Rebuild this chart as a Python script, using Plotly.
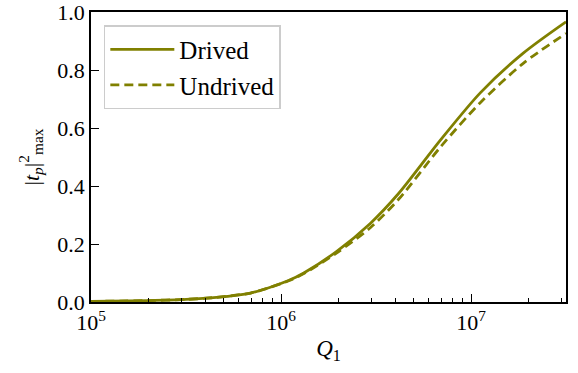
import plotly.graph_objects as go

# log10(Q1) sample positions
log_q = [5.0, 5.3, 5.5, 5.66, 5.84, 5.94, 6.04, 6.12, 6.29, 6.47, 6.62, 6.84, 7.05, 7.275, 7.5]
q1 = [10 ** v for v in log_q]
drived = [0.002, 0.005, 0.009, 0.016, 0.031, 0.050, 0.074, 0.100, 0.173, 0.271, 0.375, 0.559, 0.722, 0.858, 0.966]
undriven = [0.002, 0.005, 0.009, 0.016, 0.031, 0.050, 0.073, 0.098, 0.168, 0.256, 0.355, 0.535, 0.688, 0.823, 0.926]

x_tickvals = [1e5, 1e6, 1e7]
x_ticktext = ["10<sup>5</sup>", "10<sup>6</sup>", "10<sup>7</sup>"]
x_minor = [m * 10 ** e for e in (5, 6) for m in range(2, 10)] + [2e7, 3e7]
y_tickvals = [0.0, 0.2, 0.4, 0.6, 0.8, 1.0]

color = "#808000"
font = "Liberation Serif"

fig = go.Figure()
fig.add_trace(go.Scatter(x=q1, y=drived, mode="lines", name="Drived",
                         line=dict(color=color, width=2.8, shape="spline", smoothing=0.8)))
fig.add_trace(go.Scatter(x=q1, y=undriven, mode="lines", name="Undrived",
                         line=dict(color=color, width=2.8, dash="9px,5px", shape="spline", smoothing=0.8)))

fig.update_layout(
    width=578, height=373,
    margin=dict(l=91, r=12, t=12, b=71),
    plot_bgcolor="white", paper_bgcolor="white",
    font=dict(family=font, size=22, color="black"),
    showlegend=True,
    legend=dict(x=0.027, y=0.955, xanchor="left", yanchor="top",
                bordercolor="#cccccc", borderwidth=1.5, bgcolor="rgba(255,255,255,0.8)",
                font=dict(family=font, size=25), itemwidth=64, tracegroupgap=0),
    xaxis=dict(type="log", range=[5, 7.5], tickvals=x_tickvals, ticktext=x_ticktext,
               ticks="inside", ticklen=8, tickwidth=1.3, tickcolor="black",
               showline=True, linecolor="black", linewidth=1.5, mirror=True,
               showgrid=False, zeroline=False, automargin=False, ticklabeloverflow="allow",
               minor=dict(tickvals=x_minor, ticks="inside", ticklen=4, tickwidth=1, tickcolor="black", showgrid=False),
               title=dict(text="<i>Q</i><sub>1</sub>", font=dict(size=23), standoff=6)),
    yaxis=dict(range=[0, 1], tickvals=y_tickvals, ticktext=[f"{v:.1f}" for v in y_tickvals],
               ticks="inside", ticklen=8, tickwidth=1.3, tickcolor="black",
               showline=True, linecolor="black", linewidth=1.5, mirror=True,
               showgrid=False, zeroline=False, automargin=False, ticklabeloverflow="allow",
               title=dict(text="|<i>t<sub>p</sub></i>|<sup>2</sup><sub>max</sub>", font=dict(size=22), standoff=12)),
)

fig.write_html("out.html", config={"displayModeBar": False},
               post_script="document.body.style.margin='0';")
